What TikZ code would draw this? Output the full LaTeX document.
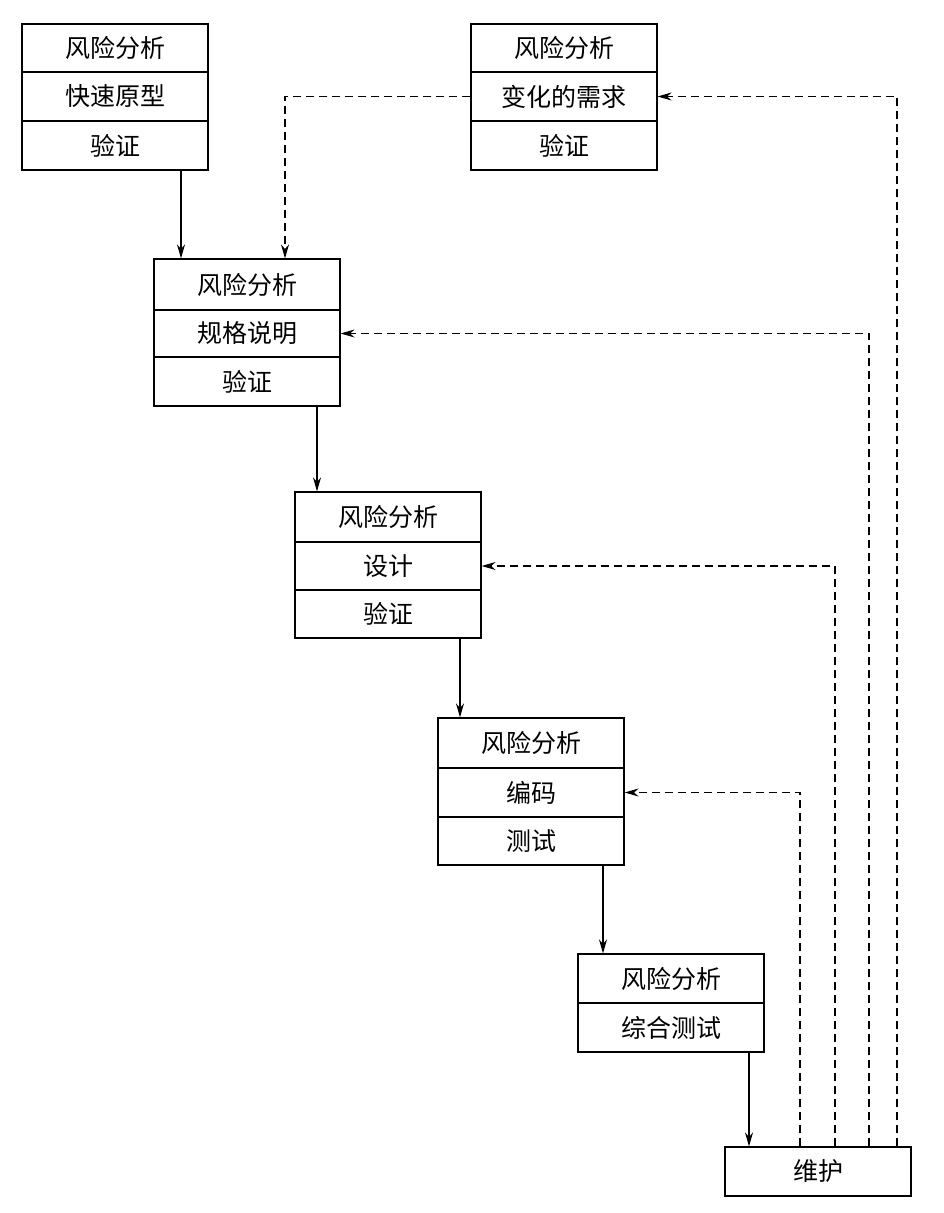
\documentclass[tikz,border=0pt]{standalone}
\usepackage{fontspec}
\newfontfamily\cjk{Noto Sans CJK SC}
\usetikzlibrary{arrows.meta}
\begin{document}
\begin{tikzpicture}[x=1pt,y=-1pt,
  row/.style={draw,line width=1.2pt,minimum width=186pt,inner sep=0pt,font=\cjk\fontsize{25}{28}\selectfont},
  arr/.style={line width=1.2pt,-{Stealth[length=14pt,width=8pt]}},
  dsh/.style={arr,dash pattern=on 8pt off 5pt}]
\useasboundingbox (0,0) rectangle (943,1213);
% helper: row node from y1 to y2 at x-range
\newcommand{\rowbox}[6]{\node[row,minimum height={#4-#3}] (#5) at ({#1+93},{(#3+#4)/2}) {#6};}
\rowbox{22}{}{24}{72}{a1}{风险分析}
\rowbox{22}{}{72}{121}{a2}{快速原型}
\rowbox{22}{}{121}{170}{a3}{验证}
\rowbox{471}{}{24}{72}{b1}{风险分析}
\rowbox{471}{}{72}{121}{b2}{变化的需求}
\rowbox{471}{}{121}{170}{b3}{验证}
\rowbox{154}{}{259}{310}{c1}{风险分析}
\rowbox{154}{}{310}{357}{c2}{规格说明}
\rowbox{154}{}{357}{406}{c3}{验证}
\rowbox{295}{}{492}{542}{d1}{风险分析}
\rowbox{295}{}{542}{590}{d2}{设计}
\rowbox{295}{}{590}{638}{d3}{验证}
\rowbox{438}{}{718}{768}{e1}{风险分析}
\rowbox{438}{}{768}{817}{e2}{编码}
\rowbox{438}{}{817}{865}{e3}{测试}
\rowbox{578}{}{954}{1003}{f1}{风险分析}
\rowbox{578}{}{1003}{1052}{f2}{综合测试}
\rowbox{725}{}{1147}{1196}{g}{维护}
% solid arrows
\draw[arr] (a3.south -| 181,0) -- (c1.north -| 181,0);
\draw[arr] (c3.south -| 317,0) -- (d1.north -| 317,0);
\draw[arr] (d3.south -| 460,0) -- (e1.north -| 460,0);
\draw[arr] (e3.south -| 603,0) -- (f1.north -| 603,0);
\draw[arr] (f2.south -| 749,0) -- (g.north -| 749,0);
% dashed
\draw[dsh] (b2.west) -| (c1.north -| 285,0);
\draw[dsh] (g.north -| 897,0) |- (b2.east);
\draw[dsh] (g.north -| 869,0) |- (c2.east);
\draw[dsh] (g.north -| 835,0) |- (d2.east);
\draw[dsh] (g.north -| 800,0) |- (e2.east);
\end{tikzpicture}
\end{document}
